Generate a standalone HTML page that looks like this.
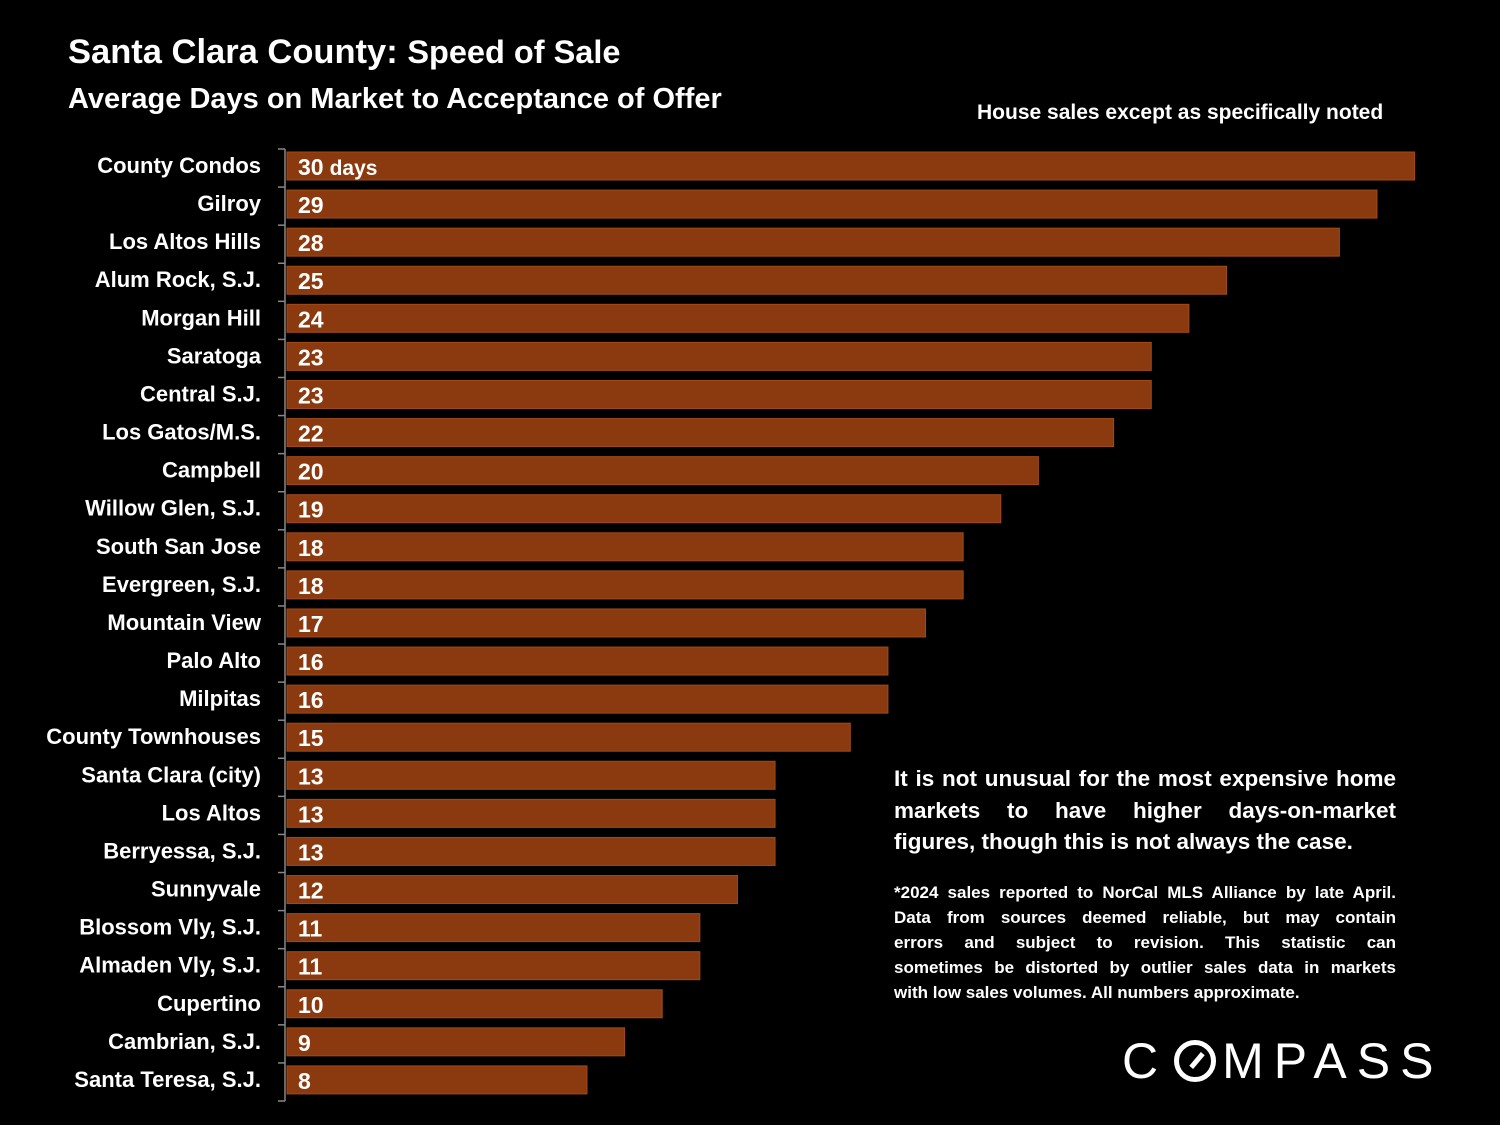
<!DOCTYPE html>
<html><head><meta charset="utf-8"><style>
html,body{margin:0;padding:0;background:#000;}
body{width:1500px;height:1125px;overflow:hidden;position:relative;font-family:"Liberation Sans","DejaVu Sans",sans-serif;color:#fff;}
.t{position:absolute;font-weight:bold;white-space:nowrap;}
.p{position:absolute;font-weight:bold;text-align:justify;}
.fl{display:block;text-align:justify;text-align-last:justify;white-space:nowrap;}
</style></head><body>
<div class="t" style="left:68px;top:33px;font-size:34.5px;">Santa Clara County: <span style="font-size:32.5px">Speed of Sale</span></div>
<div class="t" style="left:68px;top:83px;font-size:29px;">Average Days on Market to Acceptance of Offer</div>
<div class="t" style="left:977px;top:101px;font-size:21px;">House sales except as specifically noted</div>
<svg id="chart" width="1500" height="1125" style="position:absolute;left:0;top:0"></svg>
<div class="p" style="left:894px;top:763px;width:502px;font-size:22.5px;line-height:31.5px;">It is not unusual for the most expensive home markets to have higher days-on-market figures, though this is not always the case.</div>
<div class="p" style="left:894px;top:880px;width:502px;font-size:17px;line-height:25px;">
<span class="fl">*2024 sales reported to NorCal MLS Alliance by late April.</span>
<span class="fl">Data from sources deemed reliable, but may contain</span>
<span class="fl">errors and subject to revision. This statistic can</span>
<span class="fl">sometimes be distorted by outlier sales data in markets</span>
<span style="display:block;white-space:nowrap">with low sales volumes. All numbers approximate.</span>
</div>
<div class="t" style="left:1122px;top:1032px;font-size:50px;font-weight:normal;letter-spacing:10px;">C<span style="display:inline-block;width:42px;height:42px;border:5px solid #fff;border-radius:50%;box-sizing:border-box;position:relative;vertical-align:-4px;margin:0 6px"><span style="position:absolute;left:9px;top:13px;width:18px;height:5px;background:#fff;transform:rotate(-50deg)"></span></span>MPASS</div>
<script>
const categories=["County Condos","Gilroy","Los Altos Hills","Alum Rock, S.J.","Morgan Hill","Saratoga","Central S.J.","Los Gatos/M.S.","Campbell","Willow Glen, S.J.","South San Jose","Evergreen, S.J.","Mountain View","Palo Alto","Milpitas","County Townhouses","Santa Clara (city)","Los Altos","Berryessa, S.J.","Sunnyvale","Blossom Vly, S.J.","Almaden Vly, S.J.","Cupertino","Cambrian, S.J.","Santa Teresa, S.J."];
const days=[30,29,28,25,24,23,23,22,20,19,18,18,17,16,16,15,13,13,13,12,11,11,10,9,8];
const valueLabels=days.map((d,i)=>i===0?d+" days":String(d));
const NS="http://www.w3.org/2000/svg";
const svg=document.getElementById("chart");
const x0=286, pxPerDay=37.62, top0=146, step=38.08, barH=28;
function xScale(v){return x0+v*pxPerDay;}
function yBand(i){return top0+i*step;}
function mk(tag,attrs){const e=document.createElementNS(NS,tag);for(const k in attrs)e.setAttribute(k,attrs[k]);svg.appendChild(e);return e;}
const axis=mk("line",{x1:x0-1,x2:x0-1,y1:top0+3,y2:yBand(categories.length)+3,stroke:"#888","stroke-width":1.5});


for(let i=0;i<=categories.length;i++){
  const tk=mk("line",{x1:x0-8,x2:x0-1,y1:yBand(i)+3,y2:yBand(i)+3,stroke:"#888","stroke-width":1.5});
  
  
}
categories.forEach((c,i)=>{
  const y=yBand(i)+6;
  const r=mk("rect",{x:x0+1,y:y,width:xScale(days[i])-x0-1,height:barH,fill:"#8B3A0F",stroke:"#a04a1a","stroke-width":1});
  
  
  const lb=mk("text",{x:261,y:y+21,"text-anchor":"end",fill:"#fff","font-size":"22","font-weight":"bold","font-family":"Liberation Sans, sans-serif"});
  lb.textContent=c;
  
  
  const vl=mk("text",{x:298,y:y+23,fill:"#fff","font-size":"23","font-weight":"bold","font-family":"Liberation Sans, sans-serif"});
  if(i===0){vl.innerHTML=days[i]+'<tspan font-size="21" dx="6">days</tspan>';}else{vl.textContent=valueLabels[i];}
  
  
});
</script>
</body></html>
